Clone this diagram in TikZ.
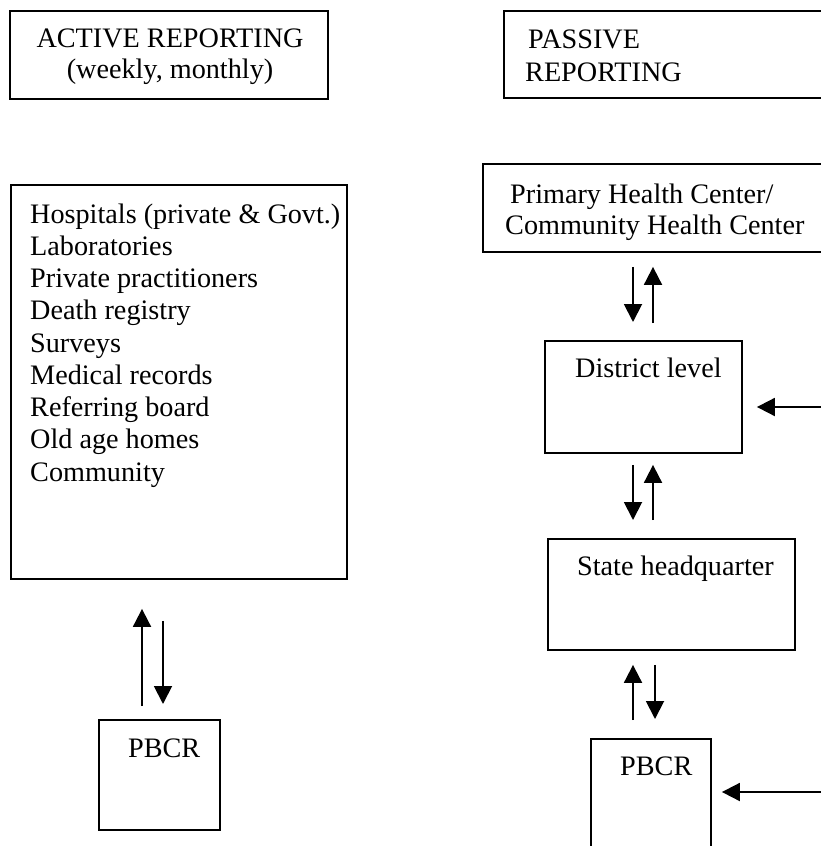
\documentclass[tikz,border=0pt]{standalone}
\usepackage{fontspec}
\setmainfont{Liberation Serif}
\usetikzlibrary{arrows.meta}
\begin{document}
\begin{tikzpicture}[x=1pt,y=-1pt,
  box/.style={draw,line width=1.9pt,inner sep=0pt,anchor=north west},
  txt/.style={inner sep=0pt,anchor=base west,font=\fontsize{28.2}{32}\selectfont},
  flow/.style={line width=1.9pt,-{Triangle[length=18pt,width=18pt]}},
]
\clip (0,0) rectangle (821,846);

% ---- active reporting column ----
\node[box,minimum width=318pt,minimum height=88pt] (active) at (9,10) {};
\node[txt,anchor=base] (activeA) at (170,47) {ACTIVE REPORTING};
\node[txt,anchor=base] (activeB) at (170,78) {(weekly, monthly)};

\node[box,minimum width=336pt,minimum height=394pt] (sources) at (10,184) {};
\foreach \t [count=\i from 0] in {Hospitals (private \& Govt.),Laboratories,
    Private practitioners,Death registry,Surveys,Medical records,
    Referring board,Old age homes,Community}
  \node[txt] (src\i) at (30,223+32.25*\i) {\t};

\node[box,minimum width=121pt,minimum height=110pt] (pbcrL) at (98,719) {};
\node[txt] (pbcrLt) at (128,757) {PBCR};

% ---- passive reporting column ----
\node[box,minimum width=360pt,minimum height=87pt] (passive) at (503,10) {};
\node[txt] (passiveA) at (528,48) {PASSIVE};
\node[txt] (passiveB) at (525,81) {REPORTING};

\node[box,minimum width=380pt,minimum height=88pt] (phc) at (482,163) {};
\node[txt] (phcA) at (510,203) {Primary Health Center/};
\node[txt] (phcB) at (505,234) {Community Health Center};

\node[box,minimum width=197pt,minimum height=112pt] (dist) at (544,340) {};
\node[txt] (distt) at (575,377) {District level};

\node[box,minimum width=247pt,minimum height=111pt] (state) at (547,538) {};
\node[txt] (statet) at (577,575) {State headquarter};

\node[box,minimum width=120pt,minimum height=140pt] (pbcrR) at (590,738) {};
\node[txt] (pbcrRt) at (620,775) {PBCR};

% ---- arrow columns ----
\coordinate (colL1) at (142,0);
\coordinate (colL2) at (163,0);
\coordinate (colR1) at (633,0);
\coordinate (colR2) at (653,0);
\coordinate (colR3) at (655,0);
\coordinate (inD) at (830,407);
\coordinate (inP) at (830,792);

% sources <-> PBCR
\draw[flow,shorten <=13pt,shorten >=29pt] (colL1 |- pbcrL.north) -- (colL1 |- sources.south);
\draw[flow,shorten <=41pt,shorten >=15pt] (colL2 |- sources.south) -- (colL2 |- pbcrL.north);

% PHC <-> district
\draw[flow,shorten <=14pt,shorten >=18pt] (colR1 |- phc.south) -- (colR1 |- dist.north);
\draw[flow,shorten <=17pt,shorten >=14pt] (colR2 |- dist.north) -- (colR2 |- phc.south);

% district <-> state
\draw[flow,shorten <=11pt,shorten >=18pt] (colR1 |- dist.south) -- (colR1 |- state.north);
\draw[flow,shorten <=18pt,shorten >=11pt] (colR2 |- state.north) -- (colR2 |- dist.south);

% state <-> PBCR
\draw[flow,shorten <=18pt,shorten >=14pt] (colR1 |- pbcrR.north) -- (colR1 |- state.south);
\draw[flow,shorten <=14pt,shorten >=19pt] (colR3 |- state.south) -- (colR3 |- pbcrR.north);

% inputs from the right
\draw[flow,shorten >=14pt] (inD) -- (inD -| dist.east);
\draw[flow,shorten >=10pt] (inP) -- (inP -| pbcrR.east);
\end{tikzpicture}
\end{document}
